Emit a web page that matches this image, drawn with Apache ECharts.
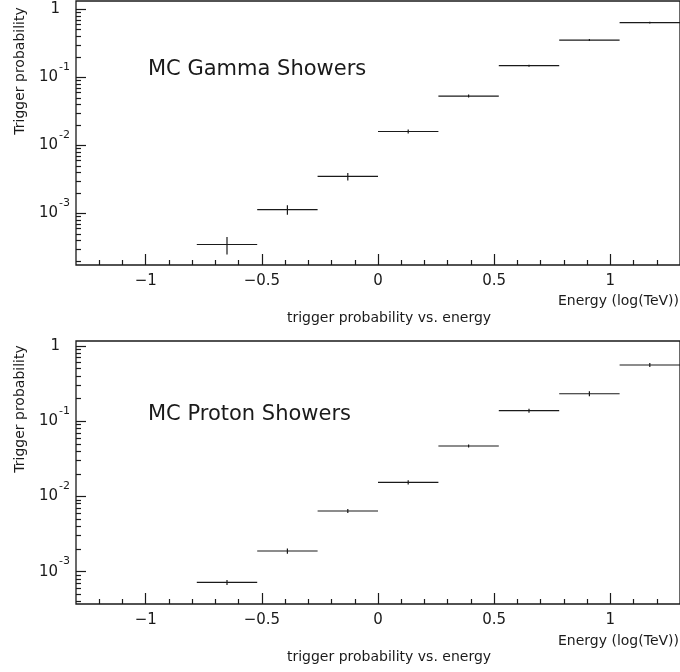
<!DOCTYPE html>
<html lang="en">

<head>
  <meta charset="UTF-8">
  <title>trigger probability vs. energy</title>
  <style>
    html, body { margin: 0; padding: 0; background: #fff; }
    #chart { width: 680px; height: 672px; }
  </style>
</head>

<body>
  <div id="chart"></div>
  <script src="https://cdn.jsdelivr.net/npm/echarts@6/dist/echarts.min.js"></script>
  <script>
    // bin centres (log10 of energy in TeV), bins are 0.26 wide
    var binCenters = [-0.65, -0.39, -0.13, 0.13, 0.39, 0.65, 0.91, 1.17];
    var binHalfWidth = 0.13;

    // MC gamma showers
    var gammaProb = [3.5e-4, 1.14e-3, 3.5e-3, 0.0160, 0.0530, 0.148, 0.352, 0.637];
    var gammaErr = [1.0e-4, 1.8e-4, 4.4e-4, 1.1e-3, 2.7e-3, 5.0e-3, 0.012, 0.020];

    // MC proton showers
    var protonProb = [7.2e-4, 1.88e-3, 6.4e-3, 0.0154, 0.0468, 0.138, 0.232, 0.559];
    var protonErr = [5.6e-5, 1.5e-4, 4.0e-4, 1.0e-3, 2.2e-3, 8.7e-3, 0.018, 0.035];

    var xMajor = [-1, -0.5, 0, 0.5, 1];
    var xMinor = [-1.2, -1.1, -0.9, -0.8, -0.7, -0.6, -0.4, -0.3, -0.2, -0.1,
      0.1, 0.2, 0.3, 0.4, 0.6, 0.7, 0.8, 0.9, 1.1, 1.2];
    var yMajor = [1e-3, 1e-2, 1e-1, 1];
    var yMinorMult = [2, 3, 4, 5, 6, 7, 8, 9];
    var yMinorDecades = [1e-4, 1e-3, 1e-2, 1e-1];

    var FONT = '"DejaVu Sans", sans-serif';
    var INK = '#1a1a1a';

    function minorTicks(lo, hi) {
      var out = [];
      yMinorDecades.forEach(function (d) {
        yMinorMult.forEach(function (m) {
          var v = m * d;
          if (v >= lo && v <= hi) out.push(v);
        });
      });
      return out;
    }

    function yLabel(v) {
      if (Math.abs(v - 1) < 1e-9) return '{one|1}';
      var e = Math.round(Math.log10(v));
      return '{b|10}{s|' + e + '}';
    }

    var chart = echarts.init(document.getElementById('chart'));

    var panels = [
      { top: 1, height: 264, ymin: 1.75e-4, ymax: 1.32, prob: gammaProb, err: gammaErr },
      { top: 341, height: 263, ymin: 3.71e-4, ymax: 1.166, prob: protonProb, err: protonErr }
    ];

    var grids = [], xAxes = [], yAxes = [], series = [];

    panels.forEach(function (p, i) {
      grids.push({
        left: 76, top: p.top, width: 608, height: p.height,
        show: true, borderColor: INK, borderWidth: 1.3, backgroundColor: 'transparent'
      });
      // major x ticks + labels
      xAxes.push({
        type: 'value', gridIndex: i, min: -1.3, max: 1.3, position: 'bottom',
        axisLine: { show: false, onZero: false },
        splitLine: { show: false },
        axisTick: { show: true, inside: true, length: 11, customValues: xMajor, lineStyle: { color: INK, width: 1.2 } },
        axisLabel: {
          customValues: xMajor, margin: 9, color: INK, fontFamily: FONT, fontSize: 15,
          formatter: function (v) { return v < 0 ? '\u2212' + Math.abs(v) : String(v); }
        }
      });
      // minor x ticks
      xAxes.push({
        type: 'value', gridIndex: i, min: -1.3, max: 1.3, position: 'bottom',
        axisLine: { show: false, onZero: false }, splitLine: { show: false },
        axisTick: { show: true, inside: true, length: 5, customValues: xMinor, lineStyle: { color: INK, width: 1.2 } },
        axisLabel: { show: false }
      });
      // major y ticks + labels
      yAxes.push({
        type: 'log', gridIndex: i, min: p.ymin, max: p.ymax, position: 'left',
        axisLine: { show: false, onZero: false }, splitLine: { show: false },
        axisTick: { show: true, inside: true, length: 10, customValues: yMajor, lineStyle: { color: INK, width: 1.2 } },
        axisLabel: {
          customValues: yMajor, margin: 6, color: INK, fontFamily: FONT,
          formatter: yLabel,
          rich: {
            one: { fontSize: 15, fontFamily: FONT, color: INK, padding: [0, 10, 0, 0] },
            b: { fontSize: 15, fontFamily: FONT, color: INK },
            s: { fontSize: 11, fontFamily: FONT, color: INK, padding: [0, 0, 20, 1] }
          }
        }
      });
      // minor y ticks
      yAxes.push({
        type: 'log', gridIndex: i, min: p.ymin, max: p.ymax, position: 'left',
        axisLine: { show: false, onZero: false }, splitLine: { show: false },
        axisTick: { show: true, inside: true, length: 5, customValues: minorTicks(p.ymin, p.ymax), lineStyle: { color: INK, width: 1.2 } },
        axisLabel: { show: false }
      });

      var data = binCenters.map(function (x, k) { return [x, p.prob[k], p.err[k]]; });
      series.push({
        type: 'custom',
        xAxisIndex: i * 2,
        yAxisIndex: i * 2,
        clip: true,
        data: data,
        renderItem: function (params, api) {
          var x = api.value(0), y = api.value(1), e = api.value(2);
          var l = api.coord([x - binHalfWidth, y]);
          var r = api.coord([x + binHalfWidth, y]);
          var up = api.coord([x, y + e]);
          var dn = api.coord([x, y - e]);
          var st = { stroke: INK, lineWidth: 1.2 };
          return {
            type: 'group',
            children: [
              { type: 'line', shape: { x1: l[0], y1: l[1], x2: r[0], y2: r[1] }, style: st },
              { type: 'line', shape: { x1: up[0], y1: up[1], x2: dn[0], y2: dn[1] }, style: st }
            ]
          };
        }
      });
    });

    function txt(x, y, text, size, align, rot) {
      return {
        type: 'text', x: x, y: y, rotation: rot || 0,
        style: {
          text: text, fill: INK, font: size + 'px ' + FONT,
          textAlign: align || 'left', textVerticalAlign: 'middle'
        }
      };
    }

    var graphics = [
      txt(148, 70, 'MC Gamma Showers', 21, 'left'),
      txt(148, 415, 'MC Proton Showers', 21, 'left'),
      txt(20, 71, 'Trigger probability', 14, 'center', Math.PI / 2),
      txt(20, 409, 'Trigger probability', 14, 'center', Math.PI / 2),
      txt(679, 301, 'Energy (log(TeV))', 14, 'right'),
      txt(679, 641, 'Energy (log(TeV))', 14, 'right'),
      txt(389, 318, 'trigger probability vs. energy', 14, 'center'),
      txt(389, 657, 'trigger probability vs. energy', 14, 'center')
    ];

    chart.setOption({
      backgroundColor: '#fff',
      animation: false,
      grid: grids,
      xAxis: xAxes,
      yAxis: yAxes,
      series: series,
      graphic: graphics
    });
  </script>
</body>

</html>
